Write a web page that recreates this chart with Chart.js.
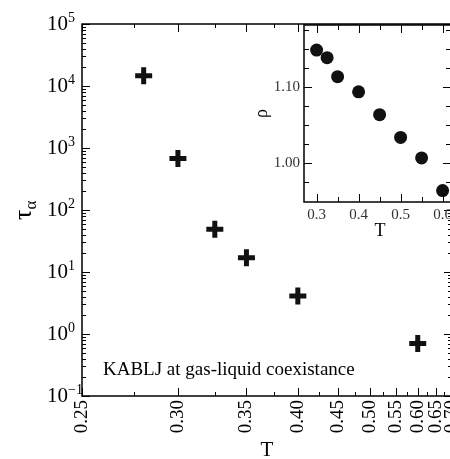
<!DOCTYPE html>
<html>
<head>
<meta charset="utf-8">
<script src="https://cdn.jsdelivr.net/npm/chart.js@4/dist/chart.umd.min.js"></script>
<style>
  html, body { margin: 0; padding: 0; background: #fff; overflow: hidden; }
  #wrap { position: relative; width: 450px; height: 459px; overflow: hidden; }
  #mainChart { position: absolute; left: 0; top: 0; }
  #insetChart { position: absolute; left: 240px; top: 0; }
</style>
</head>
<body>
<div id="wrap">
  <canvas id="mainChart" width="460" height="459"></canvas>
  <canvas id="insetChart" width="215" height="240"></canvas>
</div>
<script>
// main panel: relaxation time vs temperature (x axis is linear in 1/T)
const temps = [0.28, 0.30, 0.325, 0.35, 0.40, 0.60];
const tauAlpha = [14600, 680, 49, 17, 4.1, 0.70];
const xTickTemps = [0.25, 0.30, 0.35, 0.40, 0.45, 0.50, 0.55, 0.60, 0.65, 0.70];
const xMinorTemps = [0.275, 0.325, 0.375, 0.425, 0.475, 0.525, 0.575, 0.625, 0.675];
const yTickPowers = [-1, 0, 1, 2, 3, 4, 5];

// inset: density vs temperature
const insetTemps = [0.30, 0.325, 0.35, 0.40, 0.45, 0.50, 0.55, 0.60];
const insetRho = [1.149, 1.139, 1.114, 1.094, 1.064, 1.034, 1.007, 0.964];
const insetXTicks = [0.3, 0.4, 0.5, 0.6];
const insetXMinor = [0.35, 0.45, 0.55];
const insetYTicks = [1.00, 1.10];
const insetYMinor = [0.975, 1.025, 1.05, 1.075, 1.125, 1.15, 1.175];

const serif = "'Liberation Serif', 'DejaVu Serif', serif";

// log minor ticks 2..9 in every decade
const yMinorVals = [];
yTickPowers.slice(0, -1).forEach(p => {
    for (let m = 2; m <= 9; m++) yMinorVals.push(m * Math.pow(10, p));
});

// inward ticks on all four sides, plus the frame
function frameTicks(cfg) {
    return {
        id: 'frameTicks',
        afterDatasetsDraw(chart) {
            const { ctx, chartArea: a, scales } = chart;
            ctx.save();
            ctx.strokeStyle = '#000';
            ctx.lineWidth = cfg.lineWidth;
            ctx.strokeRect(a.left, a.top, a.right - a.left, a.bottom - a.top);
            const xs = (vals, len) => vals.forEach(v => {
                const px = Math.round(scales.x.getPixelForValue(v)) + 0.5;
                if (px < a.left || px > a.right) return;
                ctx.beginPath();
                ctx.moveTo(px, a.bottom); ctx.lineTo(px, a.bottom - len);
                ctx.moveTo(px, a.top); ctx.lineTo(px, a.top + len);
                ctx.stroke();
            });
            const ys = (vals, len) => vals.forEach(v => {
                const py = Math.round(scales.y.getPixelForValue(v)) + 0.5;
                if (py < a.top - 1 || py > a.bottom + 1) return;
                ctx.beginPath();
                ctx.moveTo(a.left, py); ctx.lineTo(a.left + len, py);
                ctx.moveTo(a.right, py); ctx.lineTo(a.right - len, py);
                ctx.stroke();
            });
            ctx.lineWidth = 1;
            xs(cfg.xMajor, cfg.majorLen);
            xs(cfg.xMinor, cfg.minorLen);
            ys(cfg.yMajor, cfg.majorLen);
            ys(cfg.yMinor, cfg.minorLen);
            ctx.restore();
        }
    };
}

const mainLabels = {
    id: 'mainLabels',
    afterDraw(chart) {
        const { ctx, chartArea: a, scales } = chart;
        // exponents of the 10^n tick labels
        ctx.save();
        ctx.fillStyle = '#000';
        ctx.font = '14px ' + serif;
        ctx.textAlign = 'left';
        ctx.textBaseline = 'middle';
        yTickPowers.forEach(p => {
            const py = scales.y.getPixelForValue(Math.pow(10, p));
            ctx.fillText(String(p).replace('-', '\u2212'), 68, py - 6);
        });
        ctx.restore();

        ctx.save();
        ctx.fillStyle = '#000';
        // y title: tau with subscript alpha, rotated
        ctx.translate(31, (a.top + a.bottom) / 2 + 10);
        ctx.rotate(-Math.PI / 2);
        ctx.textBaseline = 'alphabetic';
        ctx.font = '26px ' + serif;
        ctx.fillText('\u03C4', 0, 0);
        const w = ctx.measureText('\u03C4').width;
        ctx.font = '17px ' + serif;
        ctx.fillText('\u03B1', w, 5);
        ctx.restore();

        ctx.save();
        ctx.fillStyle = '#000';
        ctx.font = '21px ' + serif;
        ctx.textAlign = 'center';
        ctx.textBaseline = 'top';
        ctx.fillText('T', (a.left + a.right) / 2, 440);
        ctx.font = '19px ' + serif;
        ctx.textAlign = 'left';
        ctx.textBaseline = 'alphabetic';
        ctx.fillText('KABLJ at gas-liquid coexistance', a.left + 21, a.bottom - 21);
        ctx.restore();
    }
};

new Chart(document.getElementById('mainChart'), {
    type: 'scatter',
    data: {
        datasets: [{
            data: temps.map((t, i) => ({ x: 1 / t, y: tauAlpha[i] })),
            pointStyle: 'cross',
            pointRadius: 8.5,
            pointBorderWidth: 5,
            borderColor: '#111',
            backgroundColor: '#111'
        }]
    },
    options: {
        responsive: false,
        animation: false,
        layout: { autoPadding: false, padding: { top: 24, right: 8, left: 0, bottom: 0 } },
        plugins: { legend: { display: false }, tooltip: { enabled: false } },
        scales: {
            x: {
                type: 'linear',
                reverse: true,
                min: 1 / 0.70,
                max: 4,
                grid: { display: false, drawTicks: false },
                border: { display: false },
                afterBuildTicks: s => { s.ticks = xTickTemps.map(t => ({ value: 1 / t })); },
                afterFit: s => { s.height = 63; s.paddingLeft = 0; s.paddingRight = 0; },
                ticks: {
                    autoSkip: false,
                    minRotation: 90,
                    maxRotation: 90,
                    padding: 4,
                    color: '#000',
                    font: { family: serif, size: 19 },
                    callback: v => (1 / v).toFixed(2)
                }
            },
            y: {
                type: 'logarithmic',
                min: 0.1,
                max: 1e5,
                grid: { display: false, drawTicks: false },
                border: { display: false },
                afterBuildTicks: s => { s.ticks = yTickPowers.map(p => ({ value: Math.pow(10, p) })); },
                afterFit: s => { s.width = 82; s.paddingTop = 0; s.paddingBottom = 0; },
                ticks: {
                    padding: 14,
                    color: '#000',
                    font: { family: serif, size: 21 },
                    callback: () => '10'
                }
            }
        }
    },
    plugins: [frameTicks({
        lineWidth: 1.5, majorLen: 8, minorLen: 4,
        xMajor: xTickTemps.map(t => 1 / t), xMinor: xMinorTemps.map(t => 1 / t),
        yMajor: yTickPowers.map(p => Math.pow(10, p)), yMinor: yMinorVals
    }), mainLabels]
});

const insetLabels = {
    id: 'insetLabels',
    beforeDatasetsDraw(chart) {
        const { ctx, chartArea: a } = chart;
        ctx.save();
        ctx.fillStyle = '#ffffff';
        ctx.fillRect(a.left, a.top, a.right - a.left, a.bottom - a.top);
        ctx.restore();
    },
    afterDraw(chart) {
        const { ctx, chartArea: a } = chart;
        ctx.save();
        ctx.fillStyle = '#000';
        ctx.font = '18px ' + serif;
        ctx.textAlign = 'center';
        ctx.textBaseline = 'top';
        ctx.fillText('T', 140, 222);
        ctx.translate(22, (a.top + a.bottom) / 2);
        ctx.rotate(-Math.PI / 2);
        ctx.textBaseline = 'middle';
        ctx.fillText('\u03C1', 0, 0);
        ctx.restore();
    }
};

new Chart(document.getElementById('insetChart'), {
    type: 'scatter',
    data: {
        datasets: [{
            data: insetTemps.map((t, i) => ({ x: t, y: insetRho[i] })),
            pointStyle: 'circle',
            pointRadius: 6.5,
            pointBorderWidth: 0,
            backgroundColor: '#111',
            borderColor: '#111'
        }]
    },
    options: {
        responsive: false,
        animation: false,
        layout: { autoPadding: false, padding: { top: 25, right: 4, left: 0, bottom: 0 } },
        plugins: { legend: { display: false }, tooltip: { enabled: false } },
        scales: {
            x: {
                type: 'linear',
                min: 0.27,
                max: 0.62,
                grid: { display: false, drawTicks: false },
                border: { display: false },
                afterBuildTicks: s => { s.ticks = insetXTicks.map(v => ({ value: v })); },
                afterFit: s => { s.height = 38; s.paddingLeft = 0; s.paddingRight = 0; },
                ticks: {
                    autoSkip: false,
                    maxRotation: 0,
                    padding: 4,
                    color: '#333',
                    font: { family: serif, size: 15 },
                    callback: v => v.toFixed(1)
                }
            },
            y: {
                type: 'linear',
                min: 0.949,
                max: 1.182,
                grid: { display: false, drawTicks: false },
                border: { display: false },
                afterBuildTicks: s => { s.ticks = insetYTicks.map(v => ({ value: v })); },
                afterFit: s => { s.width = 64; s.paddingTop = 0; s.paddingBottom = 0; },
                ticks: {
                    padding: 4,
                    color: '#333',
                    font: { family: serif, size: 15 },
                    callback: v => v.toFixed(2)
                }
            }
        }
    },
    plugins: [frameTicks({
        lineWidth: 1.5, majorLen: 8, minorLen: 5,
        xMajor: insetXTicks, xMinor: insetXMinor,
        yMajor: insetYTicks, yMinor: insetYMinor
    }), insetLabels]
});
</script>
</body>
</html>
